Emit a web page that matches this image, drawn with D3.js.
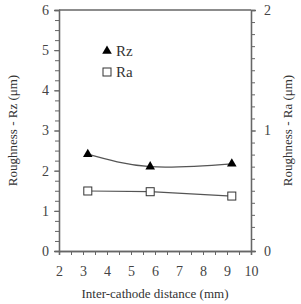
<!DOCTYPE html>
<html>
<head>
<meta charset="utf-8">
<script src="https://cdn.jsdelivr.net/npm/d3@7"></script>
<style>
  body { margin: 0; background: #fff; }
</style>
</head>
<body>
<svg id="chart" width="301" height="304"></svg>
<script>
"use strict";

// distances measured (mm)
var distances = [3.2, 5.8, 9.2];
// Rz roughness, left axis (um)
var rzValues = [2.41, 2.10, 2.17];
// Ra roughness, right axis (um)
var raValues = [0.498, 0.492, 0.456];

var xTicks = [2, 3, 4, 5, 6, 7, 8, 9, 10];
var leftTicks = [0, 1, 2, 3, 4, 5, 6];
var rightTicks = [0, 1, 2];

var legendNames = ["Rz", "Ra"];

var serif = "Liberation Serif";

var margin = { top: 10, right: 50, bottom: 53, left: 59 };
var width = 301 - margin.left - margin.right;
var height = 304 - margin.top - margin.bottom;

var axisColor = "#666";

var svg = d3.select("#chart");
var g = svg.append("g").attr("transform", "translate(" + margin.left + "," + margin.top + ")");

var x = d3.scaleLinear().domain([2, 10]).range([0, width]);
var yLeft = d3.scaleLinear().domain([0, 6]).range([height, 0]);
var yRight = d3.scaleLinear().domain([0, 2]).range([height, 0]);

// frame top line
g.append("line")
    .attr("x1", 0).attr("x2", width)
    .attr("y1", 0).attr("y2", 0)
    .attr("stroke", axisColor).attr("stroke-width", 1.5);

// minor ticks first, then the labelled axes on top
var xMinor = g.append("g").attr("transform", "translate(0," + height + ")")
    .call(d3.axisBottom(x).tickValues(d3.range(2, 10.01, 0.5)).tickSize(4).tickFormat(""));
var leftMinor = g.append("g")
    .call(d3.axisLeft(yLeft).tickValues(d3.range(0, 6.01, 0.25)).tickSize(4).tickFormat(""));
var rightMinor = g.append("g").attr("transform", "translate(" + width + ",0)")
    .call(d3.axisRight(yRight).tickValues(d3.range(0, 2.01, 0.1)).tickSize(4).tickFormat(""));

var xAxis = g.append("g").attr("transform", "translate(0," + height + ")")
    .call(d3.axisBottom(x).tickValues(xTicks).tickSize(4).tickPadding(11).tickFormat(d3.format("d")));
var leftAxis = g.append("g")
    .call(d3.axisLeft(yLeft).tickValues(leftTicks).tickSize(5).tickPadding(5).tickFormat(d3.format("d")));
var rightAxis = g.append("g").attr("transform", "translate(" + width + ",0)")
    .call(d3.axisRight(yRight).tickValues(rightTicks).tickSize(5).tickPadding(8).tickFormat(d3.format("d")));

[xMinor, leftMinor, rightMinor, xAxis, leftAxis, rightAxis].forEach(function(a) {
    a.attr("font-family", serif).attr("font-size", 14);
    a.selectAll("path").attr("stroke", axisColor).attr("stroke-width", 1.3);
    a.selectAll("line").attr("stroke", axisColor).attr("stroke-width", 1);
    a.selectAll("text").attr("fill", "#444");
});

// lines
var rzPoints = distances.map(function(d, i) { return [d, rzValues[i]]; });
var raPoints = distances.map(function(d, i) { return [d, raValues[i]]; });

var rzLine = d3.line()
    .x(function(d) { return x(d[0]); })
    .y(function(d) { return yLeft(d[1]); })
    .curve(d3.curveNatural);
var raLine = d3.line()
    .x(function(d) { return x(d[0]); })
    .y(function(d) { return yRight(d[1]); });

g.append("path").datum(rzPoints)
    .attr("d", rzLine).attr("fill", "none").attr("stroke", "#555").attr("stroke-width", 1.2);
g.append("path").datum(raPoints)
    .attr("d", raLine).attr("fill", "none").attr("stroke", "#555").attr("stroke-width", 1.2);

var triangle = d3.symbol().type(d3.symbolTriangle).size(40);

g.selectAll(".rz").data(rzPoints).enter()
    .append("path").attr("class", "rz")
    .attr("d", triangle)
    .attr("transform", function(d) { return "translate(" + x(d[0]) + "," + yLeft(d[1]) + ")"; })
    .attr("fill", "#000");

g.selectAll(".ra").data(raPoints).enter()
    .append("rect").attr("class", "ra")
    .attr("x", function(d) { return x(d[0]) - 4; })
    .attr("y", function(d) { return yRight(d[1]) - 4; })
    .attr("width", 8).attr("height", 8)
    .attr("fill", "#fff").attr("stroke", "#333").attr("stroke-width", 1);

// legend
var legend = g.append("g").attr("transform", "translate(48,41)")
    .attr("font-family", serif).attr("font-size", 15);
legend.append("path").attr("d", triangle).attr("fill", "#000");
legend.append("rect").attr("x", -4).attr("y", 17).attr("width", 8).attr("height", 8)
    .attr("fill", "#fff").attr("stroke", "#333");
legend.selectAll("text").data(legendNames).enter()
    .append("text")
    .attr("x", 9)
    .attr("y", function(d, i) { return 5 + i * 21; })
    .attr("fill", "#333")
    .text(function(d) { return d; });

// axis titles
var titles = svg.append("g").attr("font-family", serif).attr("font-size", 13)
    .attr("fill", "#333").attr("text-anchor", "middle");

titles.append("text")
    .attr("transform", "translate(17," + (margin.top + height / 2) + ") rotate(-90)")
    .text("Roughness - Rz (\u03bcm)");

titles.append("text")
    .attr("transform", "translate(292," + (margin.top + height / 2) + ") rotate(-90)")
    .text("Roughness - Ra (\u03bcm)");

titles.append("text")
    .attr("x", margin.left + width / 2)
    .attr("y", 298)
    .text("Inter-cathode distance (mm)");
</script>
</body>
</html>
